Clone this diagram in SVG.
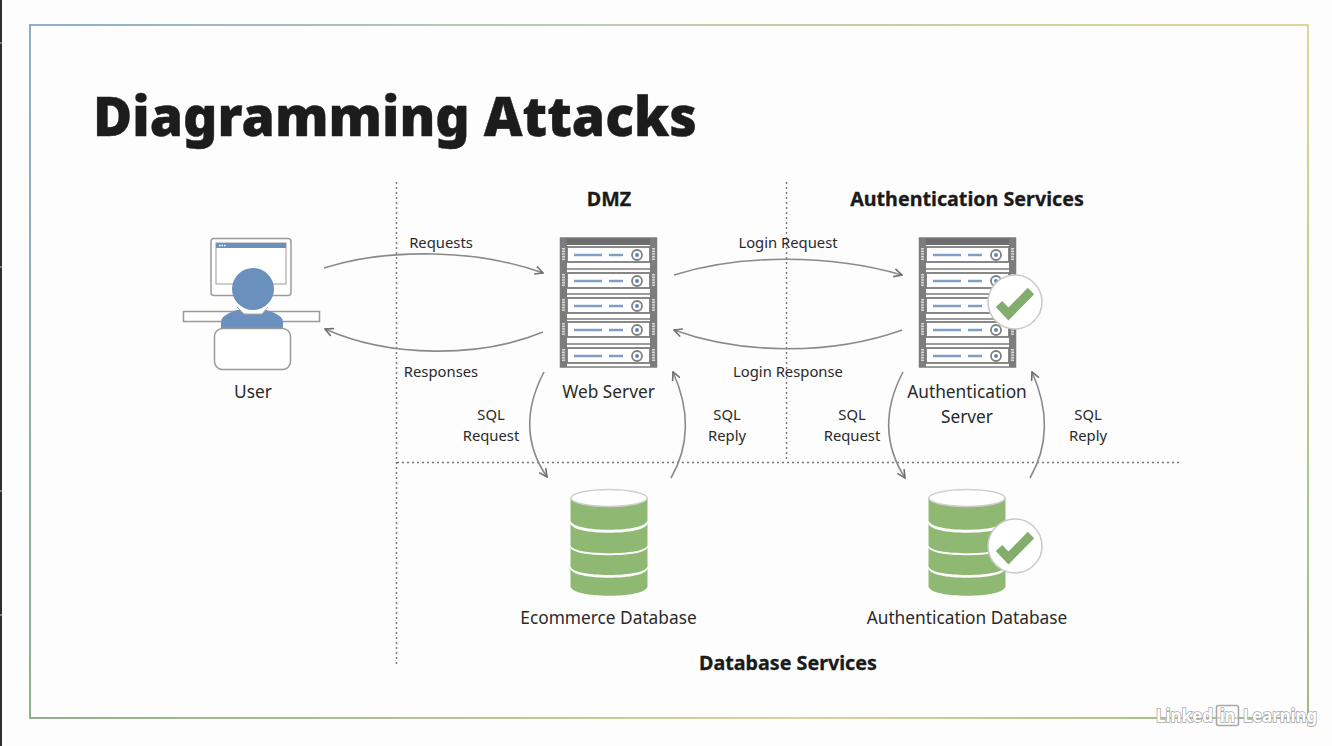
<svg xmlns="http://www.w3.org/2000/svg" xmlns:xlink="http://www.w3.org/1999/xlink" width="1332" height="746" viewBox="0 0 1332 746">
<style>
text{font-family:"Noto Sans","Open Sans","Liberation Sans",sans-serif;fill:#2a2a2a;font-size:17.3px;text-anchor:middle}
.sm{font-size:14.8px}
.hd{font-size:19.700px;font-weight:700;fill:#1a1a1a;stroke:#1a1a1a;stroke-width:.3}
.div{stroke:#777;stroke-width:1.4;stroke-dasharray:2 3;fill:none}
.cn{fill:none;stroke:#8a8a8a;stroke-width:1.6;marker-end:url(#arr)}
.wm{font-size:18.500px;font-weight:700;fill:#fff;stroke:#a8a8a8;stroke-width:1.600;paint-order:stroke;text-anchor:start}
</style>
<defs>
<marker id="arr" viewBox="0 0 10 10" refX="9" refY="5" markerWidth="10" markerHeight="10" markerUnits="userSpaceOnUse" orient="auto"><path d="M1 1L9 5L1 9" fill="none" stroke="#707070" stroke-width="1.6"/></marker>
<linearGradient id="gt" x1="29" y1="0" x2="1309" y2="0" gradientUnits="userSpaceOnUse"><stop offset="0" stop-color="#8fadcb"/><stop offset=".35" stop-color="#b8c9b4"/><stop offset="1" stop-color="#dcd79a"/></linearGradient>
<linearGradient id="gl" x1="0" y1="24" x2="0" y2="718" gradientUnits="userSpaceOnUse"><stop offset="0" stop-color="#8fadcb"/><stop offset="1" stop-color="#8fb08c"/></linearGradient>
<linearGradient id="gb" x1="29" y1="0" x2="1309" y2="0" gradientUnits="userSpaceOnUse"><stop offset="0" stop-color="#8fb08c"/><stop offset=".6" stop-color="#d8d49a"/><stop offset="1" stop-color="#9cba86"/></linearGradient>
<linearGradient id="gr" x1="0" y1="24" x2="0" y2="718" gradientUnits="userSpaceOnUse"><stop offset="0" stop-color="#dcd79a"/><stop offset="1" stop-color="#9cba86"/></linearGradient>
<g id="unit">
<rect x="7" y="0" width="83" height="15" fill="#fff" stroke="#7c7c7c" stroke-width="1.8"/>
<path d="M14 8H42M49 8H63" stroke="#7f9fc6" stroke-width="2.4" fill="none"/>
<circle cx="77" cy="8" r="5" fill="#fff" stroke="#808080" stroke-width="1.8"/>
<circle cx="77" cy="8" r="2" fill="#5e87bd"/>
<path d="M3.500 1V14M93.500 1V14" stroke="#d8d8d8" stroke-width="3" stroke-dasharray="1.600 1"/>
</g>
<g id="server">
<rect x="0" y="0" width="97" height="129" fill="#fff"/>
<rect x="0" y="0" width="97" height="7" fill="#6d6d6d"/>
<rect x="0.500" y="0" width="96" height="129" fill="none" stroke="#7c7c7c" stroke-width="1.5"/>
<rect x="0" y="0" width="7" height="129" fill="#7c7c7c"/>
<rect x="90" y="0" width="7" height="129" fill="#7c7c7c"/>
<use xlink:href="#unit" href="#unit" y="9"/>
<use xlink:href="#unit" href="#unit" y="35"/>
<use xlink:href="#unit" href="#unit" y="60"/>
<use xlink:href="#unit" href="#unit" y="84"/>
<use xlink:href="#unit" href="#unit" y="110"/>
<path d="M7 31H90M7 56H90M7 81H90M7 106H90" stroke="#7c7c7c" stroke-width="1.4"/>
</g>
<g id="db">
<path d="M0 9V31C0 44 77 44 77 31V9Z" fill="#8fb872"/>
<path d="M0 34C0 47 77 47 77 34V56C77 67 0 67 0 56Z" fill="#8fb872"/>
<path d="M0 58C0 69 77 69 77 58V77C77 89 0 89 0 77Z" fill="#8fb872"/>
<path d="M0 79C0 92 77 92 77 79V97C77 110 0 110 0 97Z" fill="#8fb872"/>
<ellipse cx="38.500" cy="9" rx="38" ry="8.500" fill="#fff" stroke="#cfcfcf" stroke-width="1.500"/>
</g>
<g id="check">
<circle cx="0" cy="0" r="27" fill="#fff" stroke="#c9c9c9" stroke-width="1.500"/>
<path d="M-16 2L-6.500 12L16 -11" fill="none" stroke="#83ad6c" stroke-width="9"/>
</g>
</defs>
<rect width="1332" height="746" fill="#fdfdfd"/>
<g id="edge">
<rect x="0" y="0" width="2" height="746" fill="#2e2e2e"/>
<path d="M0 43H2M0 267H2M0 491H2M0 615H2" stroke="#9a9a9a" stroke-width="1.500"/>
</g>
<g id="frame" fill="none" stroke-width="2">
<path d="M29 25H1309" stroke="url(#gt)"/>
<path d="M30 24V719" stroke="url(#gl)"/>
<path d="M29 718H1309" stroke="url(#gb)"/>
<path d="M1308 24V719" stroke="url(#gr)"/>
</g>
<text id="title" x="395" y="136" style="font-size:55px;font-weight:900;fill:#1c1c1c;stroke:#1c1c1c;stroke-width:.4" textLength="604" lengthAdjust="spacingAndGlyphs">Diagramming Attacks</text>
<g id="dividers">
<path class="div" d="M396.500 182V667"/>
<path class="div" d="M786.500 182V462"/>
<path class="div" d="M397 462.500H1180"/>
</g>
<g id="connectors">
<path class="cn" d="M324 268C390 247 480 250 543 273"/>
<path class="cn" d="M543 332C480 358 390 358 325 329"/>
<path class="cn" d="M674 275C740 254 830 254 902 275"/>
<path class="cn" d="M902 330C830 356 740 354 674 330"/>
<path class="cn" d="M544 372C524 410 525 445 547 477"/>
<path class="cn" d="M671 478C690 445 690 410 673 372"/>
<path class="cn" d="M903 372C883 410 884 445 905 478"/>
<path class="cn" d="M1030 478C1049 445 1049 410 1032 372"/>
</g>
<g id="labels">
<text class="sm" x="441" y="248">Requests</text>
<text class="sm" x="441" y="377">Responses</text>
<text class="sm" x="788" y="248">Login Request</text>
<text class="sm" x="788" y="377">Login Response</text>
<text class="sm" x="491" y="420">SQL</text>
<text class="sm" x="491" y="441">Request</text>
<text class="sm" x="727" y="420">SQL</text>
<text class="sm" x="727" y="441">Reply</text>
<text class="sm" x="852" y="420">SQL</text>
<text class="sm" x="852" y="441">Request</text>
<text class="sm" x="1088" y="420">SQL</text>
<text class="sm" x="1088" y="441">Reply</text>
<text class="hd" x="609" y="206">DMZ</text>
<text class="hd" x="967" y="206">Authentication Services</text>
<text class="hd" x="788" y="670">Database Services</text>
</g>
<g id="user">
<rect x="211" y="238.500" width="80" height="57" rx="3" fill="#fff" stroke="#9a9a9a" stroke-width="1.500"/>
<rect x="216" y="243" width="70" height="41" fill="#fff" stroke="#9a9a9a" stroke-width="1"/>
<rect x="216" y="243" width="70" height="5" fill="#6a90bd"/>
<path d="M219 245.500H226" stroke="#fff" stroke-width="1.500" stroke-dasharray="1.500 1"/>
<rect x="183.500" y="311.500" width="136" height="10" fill="#fff" stroke="#9a9a9a" stroke-width="1.500"/>
<path d="M221 329V322C221 315 232 312 237 310L266 310C272 312 283 315 283 322V329Z" fill="#6a90bd"/>
<path d="M237 307L244 314H262L268 307" fill="#fff" stroke="#a9a9a9"/>
<circle cx="253" cy="289" r="21" fill="#6a90bd"/>
<rect x="214.500" y="328.500" width="76" height="41" rx="8" fill="#fff" stroke="#9a9a9a" stroke-width="1.500"/>
<text x="253" y="398">User</text>
</g>
<g id="web-server">
<use xlink:href="#server" href="#server" x="560" y="238"/>
<text x="608.500" y="398">Web Server</text>
</g>
<g id="auth-server">
<use xlink:href="#server" href="#server" x="919" y="238"/>
<use xlink:href="#check" href="#check" x="1015" y="302"/>
<text x="967" y="398">Authentication</text>
<text x="967" y="423">Server</text>
</g>
<g id="ecommerce-db">
<use xlink:href="#db" href="#db" x="570.500" y="489"/>
<text x="608.500" y="624">Ecommerce Database</text>
</g>
<g id="auth-db">
<use xlink:href="#db" href="#db" x="928.500" y="489"/>
<use xlink:href="#check" href="#check" x="1015" y="546"/>
<text x="967" y="624">Authentication Database</text>
</g>
<g id="watermark">
<text class="wm" x="1156" y="722" textLength="57" lengthAdjust="spacingAndGlyphs">Linked</text>
<rect x="1216.500" y="705.500" width="22" height="20" rx="2" fill="#fff" fill-opacity=".5" stroke="#a8a8a8" stroke-width="1.600"/>
<text class="wm" x="1220" y="722" textLength="15" lengthAdjust="spacingAndGlyphs">in</text>
<text class="wm" x="1243" y="722" textLength="74" lengthAdjust="spacingAndGlyphs">Learning</text>
</g>
</svg>
